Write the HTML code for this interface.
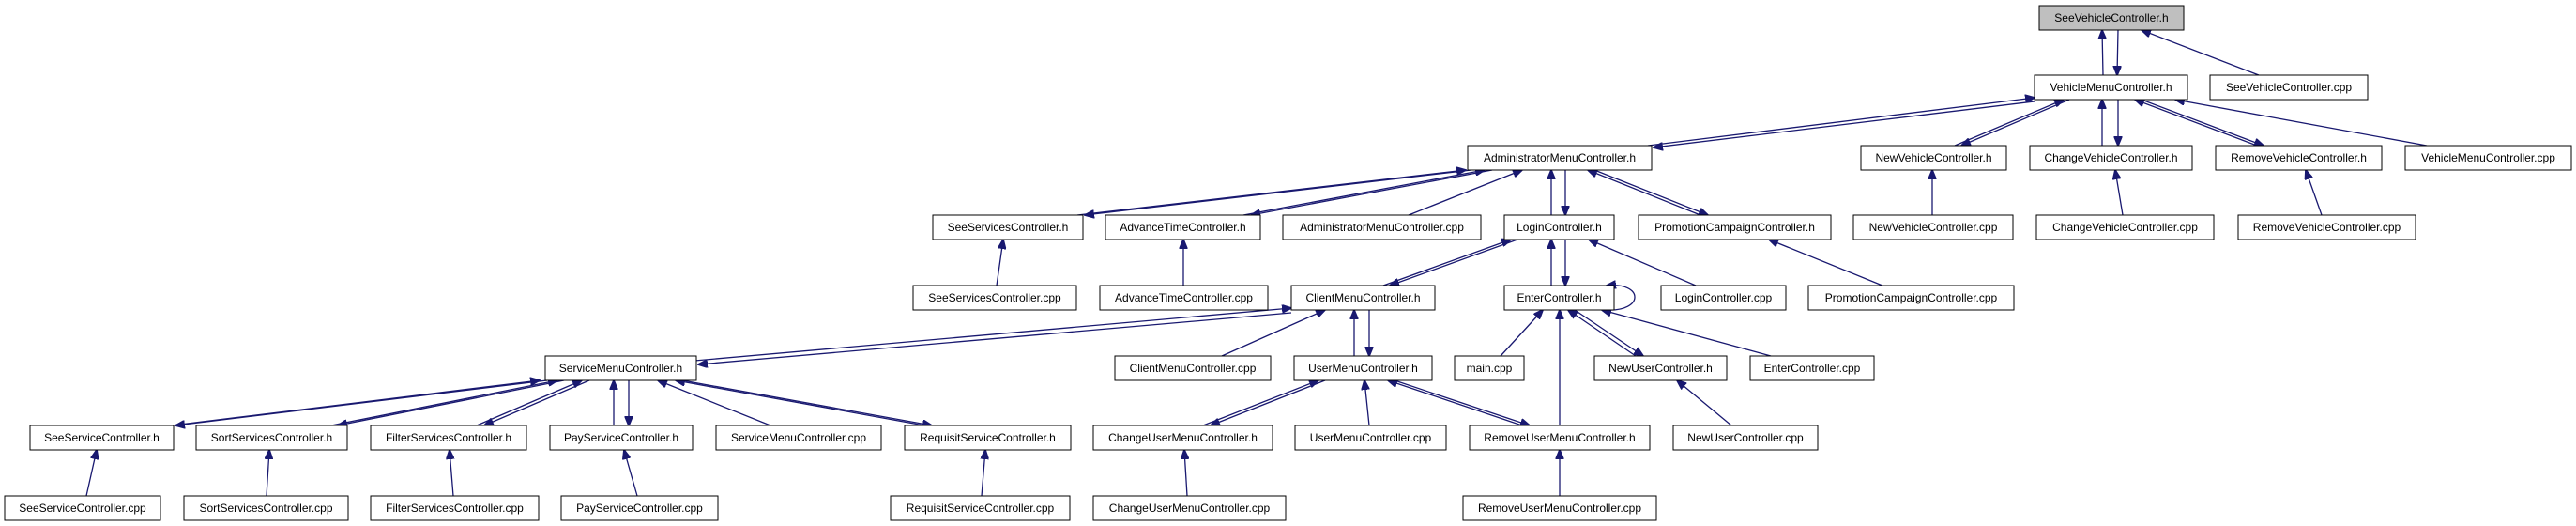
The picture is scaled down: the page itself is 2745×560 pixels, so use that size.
<!DOCTYPE html>
<html><head><meta charset="utf-8"><style>
html,body{margin:0;padding:0;background:#fff;width:2745px;height:560px;overflow:hidden}
svg{display:block}
text{font-family:"Liberation Sans",sans-serif;font-size:12px;fill:#000}
.n{fill:#fff;stroke:#000;stroke-width:1}
.e{stroke:#191970;stroke-width:1.3;fill:none;marker-end:url(#a)}
</style></head><body>
<svg width="2745" height="560" xmlns="http://www.w3.org/2000/svg">
<defs><marker id="a" markerUnits="userSpaceOnUse" markerWidth="11" markerHeight="9" refX="10" refY="4.5" orient="auto"><path d="M0,0 L11,4.5 L0,9 z" fill="#191970" stroke="#191970"/></marker></defs>
<g>
<line class="e" x1="2241" y1="80" x2="2240" y2="32"/><line class="e" x1="2257" y1="32" x2="2256" y2="80"/>
<line class="e" x1="1756" y1="155" x2="2168" y2="104"/><line class="e" x1="2168" y1="108" x2="1762" y2="157"/>
<line class="e" x1="2083" y1="155" x2="2199" y2="106"/><line class="e" x1="2205" y1="106" x2="2090" y2="155"/>
<line class="e" x1="2240" y1="155" x2="2240" y2="106"/><line class="e" x1="2257" y1="106" x2="2257" y2="155"/>
<line class="e" x1="2405" y1="155" x2="2275" y2="106"/><line class="e" x1="2282" y1="106" x2="2412" y2="155"/>
<line class="e" x1="1148" y1="229" x2="1562" y2="181"/><line class="e" x1="1568" y1="181" x2="1156" y2="229"/>
<line class="e" x1="1325" y1="229" x2="1582" y2="181"/><line class="e" x1="1590" y1="181" x2="1333" y2="229"/>
<line class="e" x1="1653" y1="229" x2="1653" y2="181"/><line class="e" x1="1668" y1="181" x2="1668" y2="229"/>
<line class="e" x1="1812" y1="229" x2="1692" y2="181"/><line class="e" x1="1699" y1="181" x2="1820" y2="229"/>
<line class="e" x1="1474" y1="304" x2="1610" y2="255"/><line class="e" x1="1617" y1="255" x2="1481" y2="304"/>
<line class="e" x1="1653" y1="304" x2="1653" y2="255"/><line class="e" x1="1668" y1="255" x2="1668" y2="304"/>
<line class="e" x1="740" y1="384" x2="1376" y2="328"/><line class="e" x1="1376" y1="333" x2="744" y2="388"/>
<line class="e" x1="1443" y1="379" x2="1443" y2="330"/><line class="e" x1="1459" y1="330" x2="1459" y2="379"/>
<line class="e" x1="1743" y1="379" x2="1671" y2="330"/><line class="e" x1="1678" y1="330" x2="1751" y2="379"/>
<line class="e" x1="183" y1="453" x2="575" y2="405"/><line class="e" x1="583" y1="405" x2="187" y2="453"/>
<line class="e" x1="353" y1="453" x2="594" y2="405"/><line class="e" x1="601" y1="405" x2="360" y2="453"/>
<line class="e" x1="508" y1="453" x2="620" y2="405"/><line class="e" x1="628" y1="405" x2="516" y2="453"/>
<line class="e" x1="654" y1="453" x2="654" y2="405"/><line class="e" x1="670" y1="405" x2="670" y2="453"/>
<line class="e" x1="985" y1="453" x2="720" y2="405"/><line class="e" x1="727" y1="405" x2="993" y2="453"/>
<line class="e" x1="1282" y1="453" x2="1405" y2="405"/><line class="e" x1="1412" y1="405" x2="1290" y2="453"/>
<line class="e" x1="1622" y1="453" x2="1479" y2="405"/><line class="e" x1="1486" y1="405" x2="1630" y2="453"/>
<line class="e" x1="2407" y1="80" x2="2282" y2="32"/>
<line class="e" x1="2586" y1="155" x2="2318" y2="106"/>
<line class="e" x1="2059" y1="229" x2="2059" y2="181"/>
<line class="e" x1="2262" y1="229" x2="2254" y2="181"/>
<line class="e" x1="2474" y1="229" x2="2457" y2="181"/>
<line class="e" x1="1501" y1="229" x2="1622" y2="181"/>
<line class="e" x1="1062" y1="304" x2="1069" y2="255"/>
<line class="e" x1="1261" y1="304" x2="1261" y2="255"/>
<line class="e" x1="1807" y1="304" x2="1693" y2="255"/>
<line class="e" x1="2006" y1="304" x2="1885" y2="255"/>
<line class="e" x1="1302" y1="379" x2="1412" y2="330"/>
<line class="e" x1="1599" y1="379" x2="1644" y2="330"/>
<line class="e" x1="1662" y1="453" x2="1662" y2="330"/>
<line class="e" x1="1887" y1="379" x2="1707" y2="330"/>
<line class="e" x1="821" y1="453" x2="701" y2="405"/>
<line class="e" x1="1459" y1="453" x2="1454" y2="405"/>
<line class="e" x1="92" y1="528" x2="103" y2="479"/>
<line class="e" x1="284" y1="528" x2="287" y2="479"/>
<line class="e" x1="483" y1="528" x2="479" y2="479"/>
<line class="e" x1="679" y1="528" x2="665" y2="479"/>
<line class="e" x1="1046" y1="528" x2="1050" y2="479"/>
<line class="e" x1="1265" y1="528" x2="1262" y2="479"/>
<line class="e" x1="1662" y1="528" x2="1662" y2="479"/>
<line class="e" x1="1845" y1="453" x2="1787" y2="405"/>
<path class="e" d="M1712,330 C1752,332 1752,300 1712,304"/>
</g>
<g id="nodes"></g>
<g>
<rect x="2173" y="6" width="154" height="26" fill="#bfbfbf" stroke="#000"/><text x="2250" y="23" text-anchor="middle">SeeVehicleController.h</text>
<rect class="n" x="2168" y="80" width="163" height="26"/><text x="2249.5" y="97" text-anchor="middle">VehicleMenuController.h</text>
<rect class="n" x="2355" y="80" width="168" height="26"/><text x="2439" y="97" text-anchor="middle">SeeVehicleController.cpp</text>
<rect class="n" x="1564" y="155" width="196" height="26"/><text x="1662" y="172" text-anchor="middle">AdministratorMenuController.h</text>
<rect class="n" x="1983" y="155" width="155" height="26"/><text x="2060.5" y="172" text-anchor="middle">NewVehicleController.h</text>
<rect class="n" x="2163" y="155" width="173" height="26"/><text x="2249.5" y="172" text-anchor="middle">ChangeVehicleController.h</text>
<rect class="n" x="2361" y="155" width="177" height="26"/><text x="2449.5" y="172" text-anchor="middle">RemoveVehicleController.h</text>
<rect class="n" x="2563" y="155" width="177" height="26"/><text x="2651.5" y="172" text-anchor="middle">VehicleMenuController.cpp</text>
<rect class="n" x="994" y="229" width="160" height="26"/><text x="1074" y="246" text-anchor="middle">SeeServicesController.h</text>
<rect class="n" x="1178" y="229" width="165" height="26"/><text x="1260.5" y="246" text-anchor="middle">AdvanceTimeController.h</text>
<rect class="n" x="1367" y="229" width="211" height="26"/><text x="1472.5" y="246" text-anchor="middle">AdministratorMenuController.cpp</text>
<rect class="n" x="1603" y="229" width="117" height="26"/><text x="1661.5" y="246" text-anchor="middle">LoginController.h</text>
<rect class="n" x="1746" y="229" width="205" height="26"/><text x="1848.5" y="246" text-anchor="middle">PromotionCampaignController.h</text>
<rect class="n" x="1975" y="229" width="170" height="26"/><text x="2060" y="246" text-anchor="middle">NewVehicleController.cpp</text>
<rect class="n" x="2170" y="229" width="189" height="26"/><text x="2264.5" y="246" text-anchor="middle">ChangeVehicleController.cpp</text>
<rect class="n" x="2385" y="229" width="189" height="26"/><text x="2479.5" y="246" text-anchor="middle">RemoveVehicleController.cpp</text>
<rect class="n" x="973" y="304" width="174" height="26"/><text x="1060" y="321" text-anchor="middle">SeeServicesController.cpp</text>
<rect class="n" x="1172" y="304" width="179" height="26"/><text x="1261.5" y="321" text-anchor="middle">AdvanceTimeController.cpp</text>
<rect class="n" x="1376" y="304" width="153" height="26"/><text x="1452.5" y="321" text-anchor="middle">ClientMenuController.h</text>
<rect class="n" x="1603" y="304" width="117" height="26"/><text x="1661.5" y="321" text-anchor="middle">EnterController.h</text>
<rect class="n" x="1770" y="304" width="133" height="26"/><text x="1836.5" y="321" text-anchor="middle">LoginController.cpp</text>
<rect class="n" x="1927" y="304" width="219" height="26"/><text x="2036.5" y="321" text-anchor="middle">PromotionCampaignController.cpp</text>
<rect class="n" x="581" y="379" width="161" height="26"/><text x="661.5" y="396" text-anchor="middle">ServiceMenuController.h</text>
<rect class="n" x="1188" y="379" width="166" height="26"/><text x="1271" y="396" text-anchor="middle">ClientMenuController.cpp</text>
<rect class="n" x="1379" y="379" width="147" height="26"/><text x="1452.5" y="396" text-anchor="middle">UserMenuController.h</text>
<rect class="n" x="1550" y="379" width="74" height="26"/><text x="1587" y="396" text-anchor="middle">main.cpp</text>
<rect class="n" x="1699" y="379" width="141" height="26"/><text x="1769.5" y="396" text-anchor="middle">NewUserController.h</text>
<rect class="n" x="1865" y="379" width="132" height="26"/><text x="1931" y="396" text-anchor="middle">EnterController.cpp</text>
<rect class="n" x="32" y="453" width="153" height="26"/><text x="108.5" y="470" text-anchor="middle">SeeServiceController.h</text>
<rect class="n" x="209" y="453" width="161" height="26"/><text x="289.5" y="470" text-anchor="middle">SortServicesController.h</text>
<rect class="n" x="395" y="453" width="166" height="26"/><text x="478" y="470" text-anchor="middle">FilterServicesController.h</text>
<rect class="n" x="586" y="453" width="152" height="26"/><text x="662" y="470" text-anchor="middle">PayServiceController.h</text>
<rect class="n" x="763" y="453" width="176" height="26"/><text x="851" y="470" text-anchor="middle">ServiceMenuController.cpp</text>
<rect class="n" x="964" y="453" width="177" height="26"/><text x="1052.5" y="470" text-anchor="middle">RequisitServiceController.h</text>
<rect class="n" x="1165" y="453" width="191" height="26"/><text x="1260.5" y="470" text-anchor="middle">ChangeUserMenuController.h</text>
<rect class="n" x="1380" y="453" width="161" height="26"/><text x="1460.5" y="470" text-anchor="middle">UserMenuController.cpp</text>
<rect class="n" x="1566" y="453" width="192" height="26"/><text x="1662" y="470" text-anchor="middle">RemoveUserMenuController.h</text>
<rect class="n" x="1783" y="453" width="154" height="26"/><text x="1860" y="470" text-anchor="middle">NewUserController.cpp</text>
<rect class="n" x="5" y="528" width="166" height="26"/><text x="88" y="545" text-anchor="middle">SeeServiceController.cpp</text>
<rect class="n" x="196" y="528" width="175" height="26"/><text x="283.5" y="545" text-anchor="middle">SortServicesController.cpp</text>
<rect class="n" x="395" y="528" width="179" height="26"/><text x="484.5" y="545" text-anchor="middle">FilterServicesController.cpp</text>
<rect class="n" x="598" y="528" width="167" height="26"/><text x="681.5" y="545" text-anchor="middle">PayServiceController.cpp</text>
<rect class="n" x="949" y="528" width="191" height="26"/><text x="1044.5" y="545" text-anchor="middle">RequisitServiceController.cpp</text>
<rect class="n" x="1165" y="528" width="205" height="26"/><text x="1267.5" y="545" text-anchor="middle">ChangeUserMenuController.cpp</text>
<rect class="n" x="1559" y="528" width="206" height="26"/><text x="1662" y="545" text-anchor="middle">RemoveUserMenuController.cpp</text>
</g>
</svg>
</body></html>
